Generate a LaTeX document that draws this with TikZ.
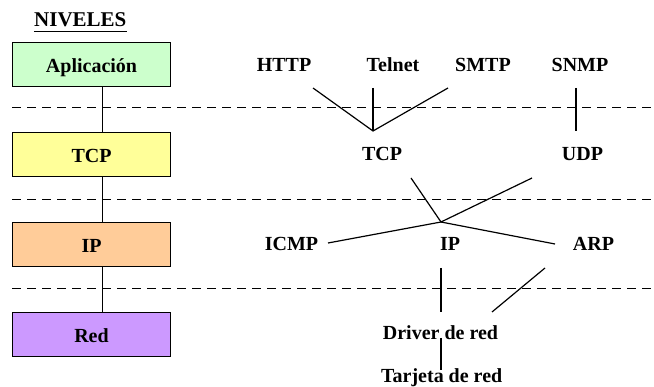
\documentclass[tikz,border=0pt]{standalone}
\usepackage{fontspec}
\setmainfont{Liberation Serif}
\usepackage{tikz}

\begin{document}
\begin{tikzpicture}[x=1pt,y=-1pt,font=\fontsize{20}{22}\selectfont\bfseries,
    nivel/.style={draw,line width=1pt,minimum width=158pt,minimum height=44pt,text height=16pt,text depth=0pt},
    prot/.style={anchor=base,inner sep=0pt},
    sep/.style={dash pattern=on 9pt off 6pt,line width=1pt},
    enlace/.style={line width=1.2pt}]
    \useasboundingbox (0,0) rectangle (654,387);

    \node[prot,font=\fontsize{21}{24}\selectfont\bfseries] (niveles) at (80.3,26.7) {NIVELES};
    \draw[line width=1.1pt] ([yshift=-5pt]niveles.base west) -- ([yshift=-5pt]niveles.base east);

    \draw[sep] (12,108) -- (654,108);
    \draw[sep] (12,199.5) -- (654,199.5);
    \draw[sep] (12,289) -- (654,289);

    \node[nivel,fill={rgb,255:red,204;green,255;blue,204}] (app) at (91.5,64.5) {Aplicación};
    \node[nivel,fill={rgb,255:red,255;green,255;blue,153}] (tcp) at (91.5,154.5) {TCP};
    \node[nivel,fill={rgb,255:red,255;green,204;blue,153}] (ip) at (91.5,244.5) {IP};
    \node[nivel,fill={rgb,255:red,204;green,153;blue,255}] (red) at (91.5,334.5) {Red};
    \foreach \a/\b in {app/tcp,tcp/ip,ip/red}
        \draw[enlace] ([xshift=11.3pt]\a.south) -- ([xshift=11.3pt]\b.north);

    \node[prot] (http) at (284,71.7) {HTTP};
    \node[prot] (telnet) at (393,71.7) {Telnet};
    \node[prot] (smtp) at (483,71.7) {SMTP};
    \node[prot] (snmp) at (580,71.7) {SNMP};
    \node[prot] (ptcp) at (382,160.7) {TCP};
    \node[prot] (udp) at (582.5,160.7) {UDP};
    \node[prot] (icmp) at (291.5,251) {ICMP};
    \node[prot] (pip) at (450,251) {IP};
    \node[prot] (arp) at (593.5,251) {ARP};
    \node[prot] (driver) at (440.5,340) {Driver de red};
    \node[prot] (tarjeta) at (441.7,382.3) {Tarjeta de red};

    \coordinate (httpE) at (313,88);
    \coordinate (telnetE) at (373,88);
    \coordinate (smtpE) at (448,88);
    \coordinate (tcpJ) at (373,131);
    \coordinate (snmpE) at (576,88);
    \coordinate (udpT) at (576,131);
    \coordinate (tcpB) at (411,178);
    \coordinate (udpB) at (532,178);
    \coordinate (ipJ) at (441,222);
    \coordinate (icmpE) at (328,243);
    \coordinate (arpE) at (555,244);
    \coordinate (ipB) at (441,268);
    \coordinate (driverA) at (441,312);
    \coordinate (arpB) at (545,268);
    \coordinate (driverB) at (492,312);
    \coordinate (driverC) at (441,338);
    \coordinate (tarjetaT) at (441,370);

    \draw[enlace] (httpE) -- (tcpJ) -- (smtpE);
    \draw[enlace] (telnetE) -- (tcpJ);
    \draw[enlace] (snmpE) -- (udpT);
    \draw[enlace] (tcpB) -- (ipJ) -- (udpB);
    \draw[enlace] (icmpE) -- (ipJ) -- (arpE);
    \draw[enlace] (ipB) -- (driverA);
    \draw[enlace] (arpB) -- (driverB);
    \draw[enlace] (driverC) -- (tarjetaT);
\end{tikzpicture}
\end{document}
